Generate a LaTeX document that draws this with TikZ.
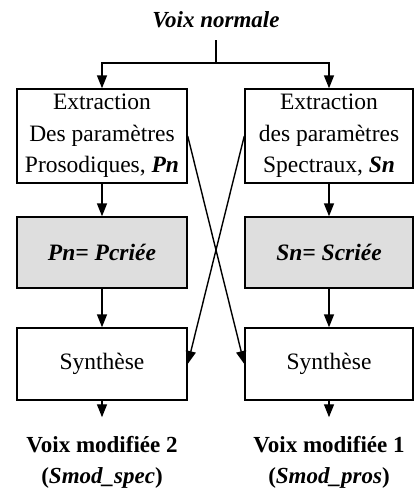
\documentclass[tikz,border=0pt]{standalone}
\usepackage{fontspec}
\setmainfont{Liberation Serif}
\usetikzlibrary{arrows.meta}
\begin{document}
\begin{tikzpicture}[x=1pt,y=-1pt,
  every node/.style={font=\fontsize{23.5}{31.5}\selectfont},
  box/.style={draw,line width=1.4pt,minimum width=170pt,align=center,inner sep=0pt},
  graybox/.style={box,fill=black!13,minimum height=71pt},
  arr/.style={line width=1.4pt,-{Triangle[length=13pt,width=10pt]}},
  ln/.style={line width=1.4pt},
  outtxt/.style={anchor=base,font=\fontsize{23}{31}\selectfont\bfseries}
]
\useasboundingbox (0,0) rectangle (414,490);
\node[anchor=base,font=\fontsize{23}{31}\selectfont\bfseries\itshape] (top) at (216,27) {Voix normale};
\coordinate (j) at (216,63);
\node[box,minimum height=94pt] (e1) at (102,136) {Extraction\\Des paramètres\\Prosodiques, \textbf{\textit{Pn}}};
\node[box,minimum height=94pt,minimum width=168pt] (e2) at (329,136) {Extraction\\des paramètres\\Spectraux, \textbf{\textit{Sn}}};
\node[graybox] (g1) at (102,252.5) {\textbf{\textit{Pn= Pcriée}}};
\node[graybox,minimum width=168pt] (g2) at (329,252.5) {\textbf{\textit{Sn= Scriée}}};
\node[box,minimum height=72pt] (s1) at (102,364) {Synthèse};
\node[box,minimum height=72pt,minimum width=168pt] (s2) at (329,364) {Synthèse};
\node[outtxt] (o2) at (102,452) {Voix modifiée 2};
\node[outtxt] (o2b) at (102,483) {(\textit{Smod\_spec})};
\node[outtxt] (o1) at (329,452) {Voix modifiée 1};
\node[outtxt] (o1b) at (329,483) {(\textit{Smod\_pros})};
\draw[ln] ([yshift=-9.5pt]top.south) -- (j);
\draw[arr] (j) -| (e1.north);
\draw[arr] (j) -| (e2.north);
\draw[arr] (e1) -- (g1);
\draw[arr] (e2) -- (g2);
\draw[arr] (g1) -- (s1);
\draw[arr] (g2) -- (s2);
\draw[arr] (e1.east) -- (s2.west);
\draw[arr] (e2.west) -- (s1.east);
\draw[arr,shorten >=15pt] (s1.south) -- (o2.north);
\draw[arr,shorten >=15pt] (s2.south) -- (o1.north);
\end{tikzpicture}
\end{document}
